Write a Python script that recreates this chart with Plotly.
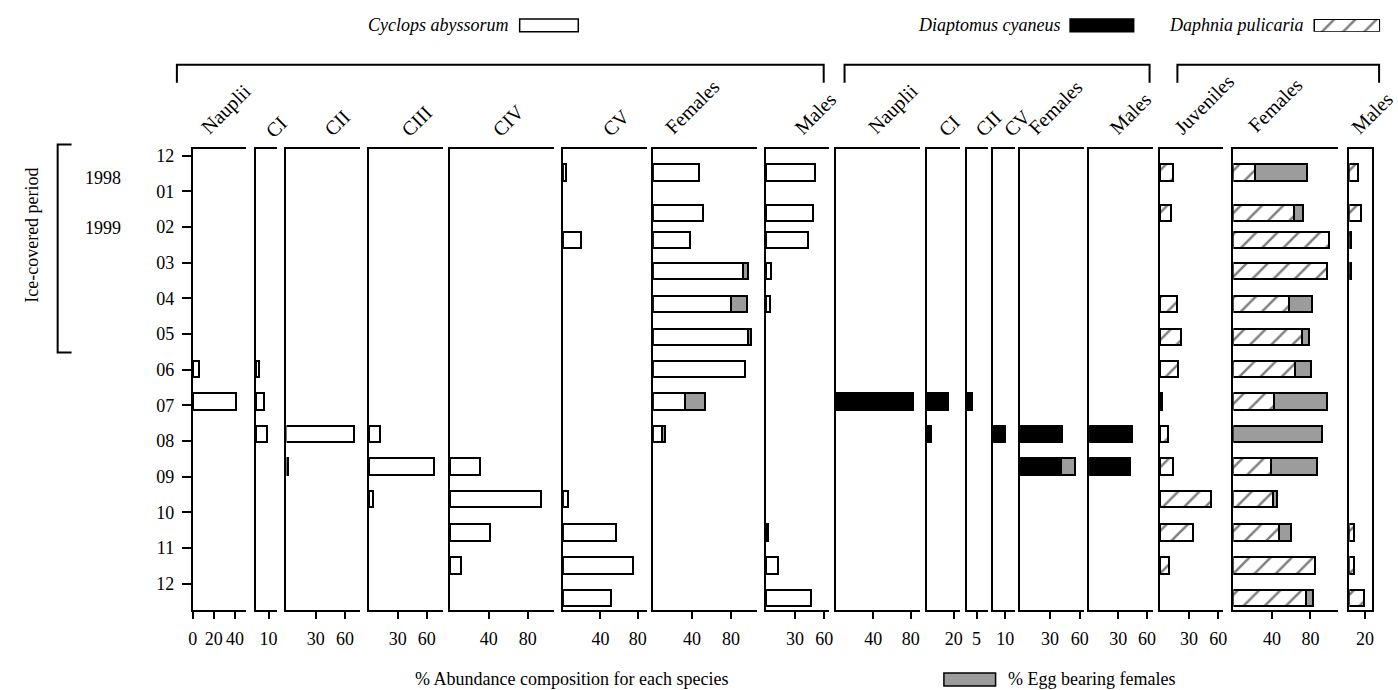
import plotly.graph_objects as go

W, H = 1398, 690

# ---------------------------------------------------------------- data
# Sampling dates, in months after December 1998 (0 = Dec 1998, 12 = Dec 1999)
sample_month = [0.47, 1.61, 2.36, 3.23, 4.16, 5.08, 5.98, 6.89, 7.81, 8.71, 9.62, 10.57, 11.49, 12.41]
month_ticks = ["12", "01", "02", "03", "04", "05", "06", "07", "08", "09", "10", "11", "12"]

# Cyclops abyssorum, % abundance composition
cyc_nauplii = [0, 0, 0, 0, 0, 0, 6, 41.5, 0, 0, 0, 0, 0, 0]
cyc_ci = [0, 0, 0, 0, 0, 0, 2.5, 6.5, 9, 0, 0, 0, 0, 0]
cyc_cii = [0, 0, 0, 0, 0, 0, 0, 0, 69, 1.5, 0, 0, 0, 0]
cyc_ciii = [0, 0, 0, 0, 0, 0, 0, 0, 11, 67, 4.5, 0, 0, 0]
cyc_civ = [0, 0, 0, 0, 0, 0, 0, 0, 0, 30.5, 93.5, 41, 12, 0]
cyc_cv = [3.5, 0, 19, 0, 0, 0, 0, 0, 0, 0, 5, 57, 74.5, 51]
cyc_fem = [47.5, 51.5, 37.5, 92.5, 80.5, 97, 94.5, 33, 9, 0, 0, 0, 0, 0]
cyc_fem_egg = [0, 0, 0, 5, 16, 3.5, 0, 20.5, 3, 0, 0, 0, 0, 0]
cyc_male = [50.5, 48.5, 43.5, 5, 4, 0, 0, 0, 0, 0, 0, 2, 12.5, 46.5]

# Diaptomus cyaneus
dia_nauplii = [0, 0, 0, 0, 0, 0, 0, 82.5, 0, 0, 0, 0, 0, 0]
dia_ci = [0, 0, 0, 0, 0, 0, 0, 16, 3, 0, 0, 0, 0, 0]
dia_cii = [0, 0, 0, 0, 0, 0, 0, 2.5, 0, 0, 0, 0, 0, 0]
dia_cv = [0, 0, 0, 0, 0, 0, 0, 0, 10, 0, 0, 0, 0, 0]
dia_fem = [0, 0, 0, 0, 0, 0, 0, 0, 42.5, 41.5, 0, 0, 0, 0]
dia_fem_egg = [0, 0, 0, 0, 0, 0, 0, 0, 0, 13.5, 0, 0, 0, 0]
dia_male = [0, 0, 0, 0, 0, 0, 0, 0, 44.5, 42.5, 0, 0, 0, 0]

# Daphnia pulicaria
dph_juv = [13.5, 12, 0, 0, 17.5, 21.5, 19, 2, 8.5, 13.5, 53, 34.5, 9.5, 0]
dph_fem = [22.5, 63, 99, 97.5, 57.5, 71.5, 64, 42.5, 0, 39, 41, 47.5, 85, 75.5]
dph_fem_egg = [54, 9, 0, 0, 24.5, 6.5, 17, 55, 92, 48, 4, 12, 0, 7]
dph_male = [10.5, 15, 2, 2, 0, 0, 0, 0, 0, 0, 0, 6, 6, 18.5]

# ---------------------------------------------------------------- layout spec
# header, left px, right px, px per %, tick values, header anchor (left, bottom) px, series
panels = [
    ("Nauplii", 190, 243.3, 1.06, [0, 20, 40], (191, 139), [(cyc_nauplii, "cyc")]),
    ("CI", 253.3, 275, 1.3, [10], (256, 142), [(cyc_ci, "cyc")]),
    ("CII", 284.3, 358, 0.98, [30, 60], (315, 141), [(cyc_cii, "cyc")]),
    ("CIII", 367.3, 441.7, 0.97, [30, 60], (393, 141), [(cyc_ciii, "cyc")]),
    ("CIV", 448.7, 553.3, 0.98, [40, 80], (485, 141), [(cyc_civ, "cyc")]),
    ("CV", 562.7, 646.7, 0.94, [40, 80], (595, 141), [(cyc_cv, "cyc")]),
    ("Females", 653.3, 758.3, 0.98, [40, 80], (658, 139), [(cyc_fem, "cyc"), (cyc_fem_egg, "egg")]),
    ("Males", 766.7, 830.7, 0.98, [30, 60], (789, 139), [(cyc_male, "cyc")]),
    ("Nauplii", 837.3, 921.7, 0.94, [40, 80], (862, 139), [(dia_nauplii, "dia")]),
    ("CI", 929, 961.7, 1.35, [20], (933, 141), [(dia_ci, "dia")]),
    ("CII", 969, 990.7, 1.98, [5], (971, 141), [(dia_cii, "dia")]),
    ("CV", 995.5, 1017.3, 1.22, [10], (999, 141), [(dia_cv, "dia")]),
    ("Females", 1022.7, 1086.7, 1.0, [30, 60], (1024, 139), [(dia_fem, "dia"), (dia_fem_egg, "egg")]),
    ("Males", 1092.3, 1156, 0.97, [30, 60], (1106, 139), [(dia_male, "dia")]),
    ("Juveniles", 1163.3, 1226.7, 0.98, [30, 60], (1171, 139), [(dph_juv, "dph")]),
    ("Females", 1237.3, 1342.7, 0.97, [40, 80], (1245, 137), [(dph_fem, "dph"), (dph_fem_egg, "egg")]),
    ("Males", 1354, 1376.7, 0.79, [20], (1349, 139), [(dph_male, "dph")]),
]

PLOT_TOP, PLOT_BOTTOM = 147, 610
Y_RANGE = [12.75, -0.18]
BAR_W = 0.46
SERIF = "Liberation Serif, Times New Roman, serif"
OUTLINE = dict(color="black", width=2)
EGG_GREY = "#9c9c9c"

styles = {
    "cyc": dict(color="white", line=OUTLINE),
    "dia": dict(color="black", line=OUTLINE),
    "dph": dict(color="white", line=OUTLINE,
                pattern=dict(shape="/", fgcolor="black", bgcolor="white", size=15, solidity=0.17)),
    "egg": dict(color=EGG_GREY, line=OUTLINE),
}


def px(x):
    return x / W


def py(y):
    return 1 - y / H


def text_note(text, x, y, size=18, xanchor="center", yanchor="middle", angle=0):
    return dict(text=text, x=px(x), y=py(y), xref="paper", yref="paper",
                xanchor=xanchor, yanchor=yanchor, textangle=angle, showarrow=False,
                font=dict(family=SERIF, size=size))


fig = go.Figure()
layout = dict(
    width=W, height=H, margin=dict(l=0, r=0, t=0, b=0),
    paper_bgcolor="white", plot_bgcolor="white",
    barmode="stack", showlegend=False,
    font=dict(family=SERIF, size=17, color="black"),
)

annotations = []
shapes = []

for i, (name, left, right, scale, tv, (hx, hy), series) in enumerate(panels, start=1):
    xa = "x" if i == 1 else f"x{i}"
    ya = "y" if i == 1 else f"y{i}"
    for vals, st in series:
        ys = [m for m, v in zip(sample_month, vals) if v > 0]
        xs = [v for v in vals if v > 0]
        fig.add_trace(go.Bar(x=xs, y=ys, orientation="h", width=BAR_W,
                             marker=styles[st], xaxis=xa, yaxis=ya,
                             hovertemplate=f"{name}: %{{x}}%<extra></extra>"))
    first = i == 1
    last = i == len(panels)
    layout["xaxis" if first else f"xaxis{i}"] = dict(
        domain=[px(left), px(right)], range=[0, (right - left) / scale],
        anchor=ya, showline=True, linecolor="black", linewidth=2, mirror=True,
        ticks="outside", ticklen=7, tickwidth=1.5, tickcolor="black",
        tickvals=tv, tickfont=dict(family=SERIF, size=18), ticklabelstandoff=4,
        showgrid=False, zeroline=False, fixedrange=True,
    )
    layout["yaxis" if first else f"yaxis{i}"] = dict(
        domain=[py(PLOT_BOTTOM), py(PLOT_TOP)], range=Y_RANGE,
        anchor=xa, showline=True, linecolor="black", linewidth=2, mirror=last,
        tickvals=list(range(13)), ticktext=month_ticks,
        ticks="outside" if first else "", ticklen=9, tickwidth=2, tickcolor="black",
        showticklabels=first, tickfont=dict(family=SERIF, size=18), ticklabelstandoff=4,
        showgrid=False, zeroline=False, fixedrange=True,
    )
    annotations.append(text_note(name, hx, hy, size=20, xanchor="left", yanchor="bottom", angle=-45))

# Hatched swatch for the Daphnia key, drawn as a bar on its own tiny axis
k = len(panels) + 1
fig.add_trace(go.Bar(x=[1], y=[0], orientation="h", width=1, marker=styles["dph"],
                     xaxis=f"x{k}", yaxis=f"y{k}", hoverinfo="skip"))
layout[f"xaxis{k}"] = dict(domain=[px(1318), px(1385)], range=[0, 1], visible=False,
                           anchor=f"y{k}", fixedrange=True)
layout[f"yaxis{k}"] = dict(domain=[py(29), py(16)], range=[-0.5, 0.5], visible=False,
                           anchor=f"x{k}", fixedrange=True)

# Species key at the top
for label, xr in [("Cyclops abyssorum", 510), ("Diaptomus cyaneus", 1065), ("Daphnia pulicaria", 1310)]:
    annotations.append(text_note(f"<i>{label}</i>", xr, 22, xanchor="right"))
shapes.append(dict(type="rect", xref="paper", yref="paper", x0=px(519), x1=px(578), y0=py(29), y1=py(16),
                   line=dict(color="black", width=1.5), fillcolor="white"))
shapes.append(dict(type="rect", xref="paper", yref="paper", x0=px(1073), x1=px(1137), y0=py(29), y1=py(16),
                   line=dict(color="black", width=1.5), fillcolor="black"))

# Brackets grouping the stages of each species
for x0, x1 in [(174, 825), (846, 1153), (1181, 1384)]:
    shapes.append(dict(type="path", xref="paper", yref="paper",
                       path=f"M {px(x0)},{py(80)} L {px(x0)},{py(62)} L {px(x1)},{py(62)} L {px(x1)},{py(80)}",
                       line=dict(color="black", width=2)))

# Ice-covered period bracket and labels
shapes.append(dict(type="path", xref="paper", yref="paper",
                   path=f"M {px(68)},{py(142)} L {px(54)},{py(142)} L {px(54)},{py(351)} L {px(68)},{py(351)}",
                   line=dict(color="black", width=2)))
annotations.append(text_note("Ice-covered period", 28, 233, angle=-90))
for yr, yy in [("1998", 176), ("1999", 226)]:
    annotations.append(text_note(yr, 100, yy))

# Axis title and egg-bearing key at the bottom
annotations.append(text_note("% Abundance composition for each species", 571, 679))
shapes.append(dict(type="rect", xref="paper", yref="paper", x0=px(946), x1=px(998), y0=py(686), y1=py(673),
                   line=dict(color="black", width=1.5), fillcolor=EGG_GREY))
annotations.append(text_note("% Egg bearing females", 1008, 679, xanchor="left"))

layout["annotations"] = annotations
layout["shapes"] = shapes
fig.update_layout(**layout)
fig.write_html("out.html")
